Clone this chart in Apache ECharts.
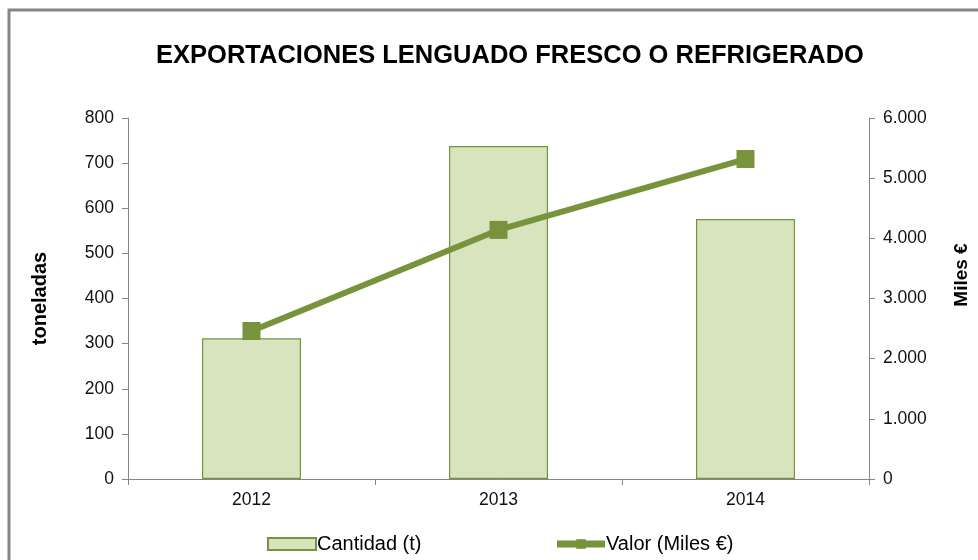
<!DOCTYPE html>
<html>
<head>
<meta charset="utf-8">
<script src="https://cdn.jsdelivr.net/npm/echarts@6/dist/echarts.min.js"></script>
<style>html,body{margin:0;padding:0;background:#fff;overflow:hidden;}</style>
</head>
<body>
<div id="chart" style="width:978px;height:560px;"></div>
<script>
// datos
var years = ['2012', '2013', '2014'];
var cantidad = [312, 738, 576];
var valor = [2460, 4140, 5318];

var font = '"Liberation Sans", Arial, sans-serif';
var chart = echarts.init(document.getElementById('chart'));
chart.setOption({
  animation: false,
  textStyle: {fontFamily: font},
  title: {
    text: 'EXPORTACIONES LENGUADO FRESCO O REFRIGERADO',
    left: 505, top: 38, textAlign: 'center',
    textStyle: {fontSize: 25.5, fontWeight: 'bold', color: '#000', fontFamily: font}
  },
  graphic: [{
    type: 'rect', shape: {x: 9, y: 10, width: 1000, height: 600},
    style: {fill: 'none', stroke: '#868686', lineWidth: 3}, silent: true
  }, {
    // titulo eje derecho
    type: 'text', x: 962, y: 275, rotation: Math.PI / 2,
    style: {text: 'Miles €', font: 'bold 19px ' + font, fill: '#000',
      align: 'center', verticalAlign: 'middle'}
  }],
  legend: {
    top: 529, left: 262, itemGap: 132, itemWidth: 48, itemHeight: 12,
    textStyle: {fontSize: 20, color: '#000', fontFamily: font, padding: [0, 0, 0, -4]},
    data: [
      {name: 'Cantidad (t)', icon: 'rect'},
      {name: 'Valor (Miles €)', lineStyle: {width: 7}, itemStyle: {color: '#77933c'}}
    ]
  },
  grid: {left: 128, right: 109, top: 118, bottom: 81},
  xAxis: {
    type: 'category', data: years,
    axisLine: {lineStyle: {color: '#868686'}},
    axisTick: {show: true, length: 6, lineStyle: {color: '#868686'}},
    axisLabel: {fontSize: 17.5, color: '#111', margin: 12}
  },
  yAxis: [{
    type: 'value', min: 0, max: 800, interval: 100,
    name: 'toneladas', nameLocation: 'middle', nameGap: 78, nameRotate: 90,
    nameTextStyle: {fontSize: 20, fontWeight: 'bold', color: '#000'},
    axisLine: {show: true, lineStyle: {color: '#868686'}},
    axisTick: {show: true, length: 6, lineStyle: {color: '#868686'}},
    axisLabel: {fontSize: 17.5, color: '#111', margin: 14},
    splitLine: {show: false}
  }, {
    type: 'value', min: 0, max: 6000, interval: 1000,
    axisLine: {show: true, lineStyle: {color: '#868686'}},
    axisTick: {show: true, length: 6, lineStyle: {color: '#868686'}},
    axisLabel: {fontSize: 17.5, color: '#111', margin: 14,
      formatter: function (v) { return v === 0 ? '0' : v.toLocaleString('de-DE'); }},
    splitLine: {show: false}
  }],
  series: [{
    name: 'Cantidad (t)', type: 'bar', data: cantidad, barWidth: 99,
    itemStyle: {color: '#d7e4bd', borderColor: '#77933c', borderWidth: 1.2}
  }, {
    name: 'Valor (Miles €)', type: 'line', yAxisIndex: 1, data: valor,
    symbol: 'rect', symbolSize: 18,
    lineStyle: {color: '#77933c', width: 6},
    itemStyle: {color: '#77933c'}
  }]
});
</script>
</body>
</html>
